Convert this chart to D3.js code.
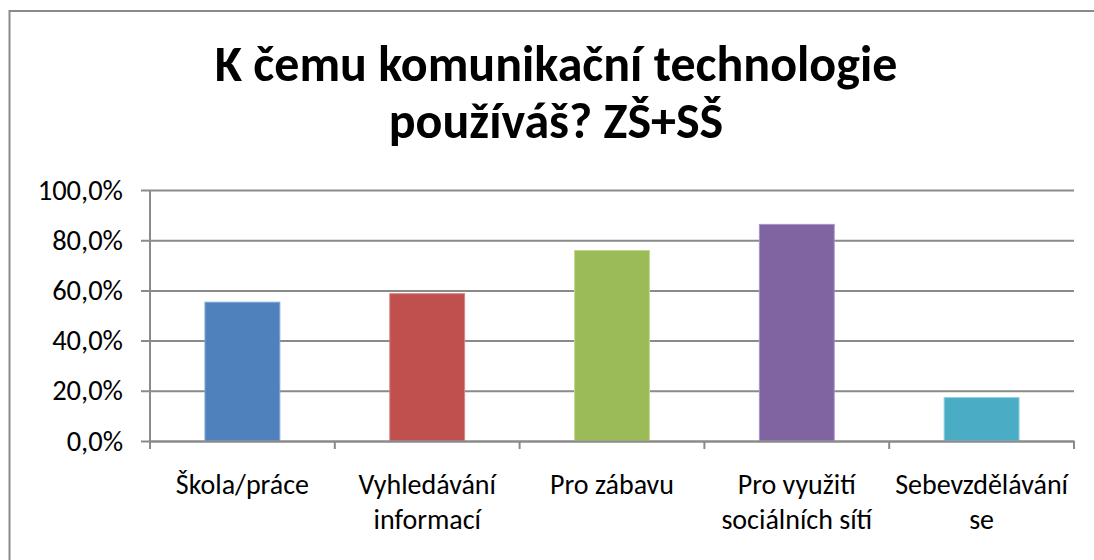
<!DOCTYPE html>
<html>
<head>
<meta charset="utf-8">
<script src="https://cdn.jsdelivr.net/npm/d3@7"></script>
<style>
  html, body { margin: 0; padding: 0; background: #fff; }
  svg { display: block; }
  text { font-family: Carlito, Lato, "Open Sans", sans-serif; fill: #000; }
</style>
</head>
<body>
<svg id="chart" width="1094" height="560"></svg>
<script>
const titleLines = ["K čemu komunikační technologie", "používáš? ZŠ+SŠ"];
const categories = ["Škola/práce", "Vyhledávání\ninformací", "Pro zábavu", "Pro využití\nsociálních sítí", "Sebevzdělávání\nse"];
const values = [0.553, 0.587, 0.759, 0.863, 0.173];
const colors = ["#4F81BD", "#C0504D", "#9BBB59", "#8064A2", "#4BACC6"];
const edgeColors = ["#7ea6d6", "#d88683", "#c0d98f", "#a894c4", "#8ccfe0"];
const yTicks = [0, 0.2, 0.4, 0.6, 0.8, 1.0];

const svg = d3.select("#chart");
const W = 1094, H = 560;
const margin = {left: 150, right: 20, top: 190, bottom: 119};
const plotW = W - margin.left - margin.right; // 924
const plotH = H - margin.top - margin.bottom; // 251
const gridColor = "#8a8a8a";

// outer frame
svg.append("rect")
  .attr("x", 9.5).attr("y", 11)
  .attr("width", 1200).attr("height", 1000)
  .attr("fill", "none").attr("stroke", gridColor).attr("stroke-width", 2);

// title
const title = svg.append("text")
  .attr("text-anchor", "middle")
  .attr("font-weight", "bold")
  .attr("font-size", 50);
titleLines.forEach((t, i) => {
  title.append("tspan").attr("x", 556).attr("y", 81 + i * 57).text(t);
});

const g = svg.append("g").attr("transform", `translate(${margin.left},${margin.top})`);

const x = d3.scaleBand().domain(categories).range([0, plotW])
  .paddingInner(0.595).paddingOuter(0.2975);
const y = d3.scaleLinear().domain([0, 1]).range([plotH, 0]);

const fmt = v => d3.format(".1f")(v * 100).replace(".", ",") + "%";

// y axis with gridlines
const yAxis = g.append("g")
  .call(d3.axisLeft(y).tickValues(yTicks).tickFormat(fmt).tickSize(-plotW).tickPadding(27));
yAxis.select(".domain").remove();
yAxis.selectAll(".tick line")
  .attr("x1", -9)
  .attr("stroke", gridColor).attr("stroke-width", 2);
yAxis.selectAll(".tick text")
  .attr("font-size", 28.5)
  .attr("font-family", "Carlito, Lato, 'Open Sans', sans-serif")
  .attr("fill", "#000");

// vertical axis line
g.append("line")
  .attr("x1", 0).attr("x2", 0).attr("y1", 0).attr("y2", plotH + 7)
  .attr("stroke", gridColor).attr("stroke-width", 2);

// bars
g.selectAll("rect.bar").data(values).join("rect")
  .attr("class", "bar")
  .attr("x", (d, i) => x(categories[i]))
  .attr("y", d => y(d))
  .attr("width", x.bandwidth())
  .attr("height", d => plotH - y(d))
  .attr("fill", (d, i) => colors[i])
  .attr("stroke", (d, i) => edgeColors[i])
  .attr("stroke-width", 1);

// x axis
const xAxis = g.append("g").attr("transform", `translate(0,${plotH})`)
  .call(d3.axisBottom(x).tickSize(0).tickPadding(0).tickSizeOuter(0));
xAxis.select(".domain").attr("stroke", gridColor).attr("stroke-width", 2);
xAxis.selectAll(".tick text").remove();
xAxis.selectAll(".tick").each(function(d) {
  const lines = d.split("\n");
  const t = d3.select(this).append("text")
    .attr("text-anchor", "middle")
    .attr("font-size", 28)
    .attr("fill", "#000");
  lines.forEach((ln, i) => {
    t.append("tspan").attr("x", 0).attr("y", 53 + i * 35).text(ln);
  });
});
// category boundary ticks
const bounds = d3.range(categories.length + 1).map(i => i * x.step());
xAxis.selectAll("line.bound").data(bounds).join("line")
  .attr("class", "bound")
  .attr("x1", d => d).attr("x2", d => d)
  .attr("y1", 0).attr("y2", 8)
  .attr("stroke", gridColor).attr("stroke-width", 2);
</script>
</body>
</html>
